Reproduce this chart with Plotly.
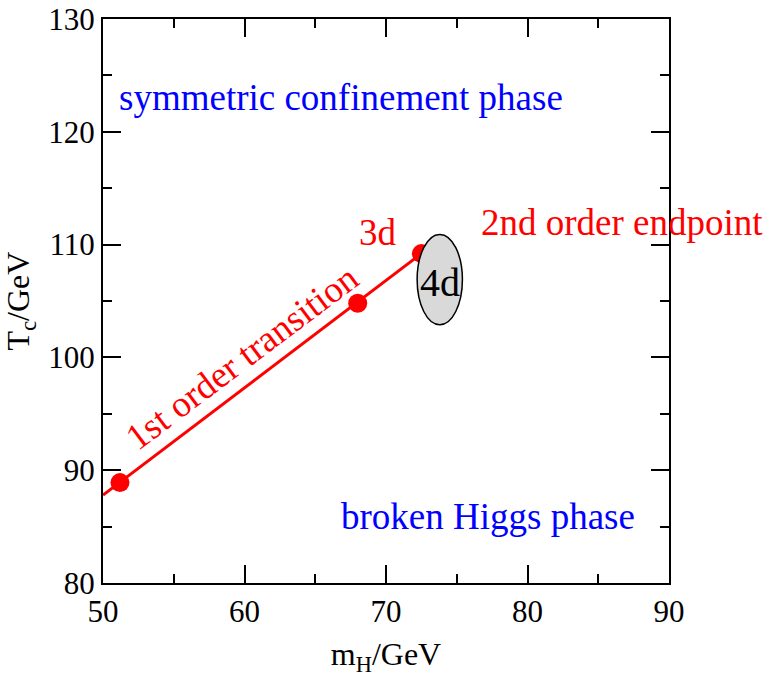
import plotly.graph_objects as go

# Lattice results for the critical temperature of the electroweak transition
m_higgs = [51.2, 68.0, 72.5]          # m_H / GeV
t_crit = [88.9, 104.8, 109.2]          # T_c / GeV

# First-order transition line, extended to the left edge of the frame
line_m = [50.0, 72.5]
line_t = [87.8, 109.2]

# 4d endpoint estimate (ellipse: centre and half-axes)
end4d_m, end4d_t = 73.8, 106.9
end4d_dm, end4d_dt = 1.6, 4.0

x_ticks = [50, 60, 70, 80, 90]
y_ticks = [80, 90, 100, 110, 120, 130]

FONT = "Liberation Serif"
RED = "#ff0000"
BLUE = "#0000ff"

fig = go.Figure()
fig.add_trace(go.Scatter(x=line_m, y=line_t, mode="lines",
                         line=dict(color=RED, width=3), hoverinfo="skip"))
fig.add_trace(go.Scatter(x=m_higgs, y=t_crit, mode="markers",
                         marker=dict(color=RED, size=19)))

fig.add_shape(type="circle", xref="x", yref="y",
              x0=end4d_m - end4d_dm, x1=end4d_m + end4d_dm,
              y0=end4d_t - end4d_dt, y1=end4d_t + end4d_dt,
              fillcolor="#d9d9d9", line=dict(color="black", width=1.5),
              layer="above")

def label(text, x, y, color, size=37, angle=0, xanchor="center"):
    fig.add_annotation(x=x, y=y, xref="x", yref="y", text=text, showarrow=False,
                       textangle=angle, xanchor=xanchor, yanchor="middle",
                       font=dict(family=FONT, size=size, color=color))

label("symmetric confinement phase", 51.0, 123.0, BLUE, xanchor="left")
label("broken Higgs phase", 66.7, 85.9, BLUE, xanchor="left")
label("2nd order endpoint", 76.6, 112.0, RED, xanchor="left")
label("3d", 69.4, 111.1, RED)
label("1st order transition", 59.8, 100.0, RED, angle=-37)
label("4d", end4d_m, 106.6, "black", size=40)

axis_common = dict(showline=True, linecolor="black", linewidth=2, mirror="ticks",
                   ticks="inside", ticklen=18, tickwidth=1.5, tickcolor="black",
                   showgrid=False, zeroline=False, automargin=False,
                   tickfont=dict(family=FONT, size=31, color="black"))

fig.update_xaxes(range=[50, 90], tickvals=x_ticks,
                 minor=dict(ticks="inside", ticklen=9, dtick=5, tickwidth=1.5,
                            tickcolor="black"),
                 title=dict(text="m<sub>H</sub>/GeV",
                            font=dict(family=FONT, size=32, color="black")),
                 **axis_common)
fig.update_yaxes(range=[80, 130], tickvals=y_ticks,
                 minor=dict(ticks="inside", ticklen=9, dtick=5, tickwidth=1.5,
                            tickcolor="black"),
                 title=dict(text="T<sub>c</sub>/GeV",
                            font=dict(family=FONT, size=32, color="black")),
                 **axis_common)

fig.update_layout(width=766, height=677, showlegend=False,
                  paper_bgcolor="white", plot_bgcolor="white",
                  margin=dict(l=103, r=97, t=19, b=94))

fig.write_html("out.html")
